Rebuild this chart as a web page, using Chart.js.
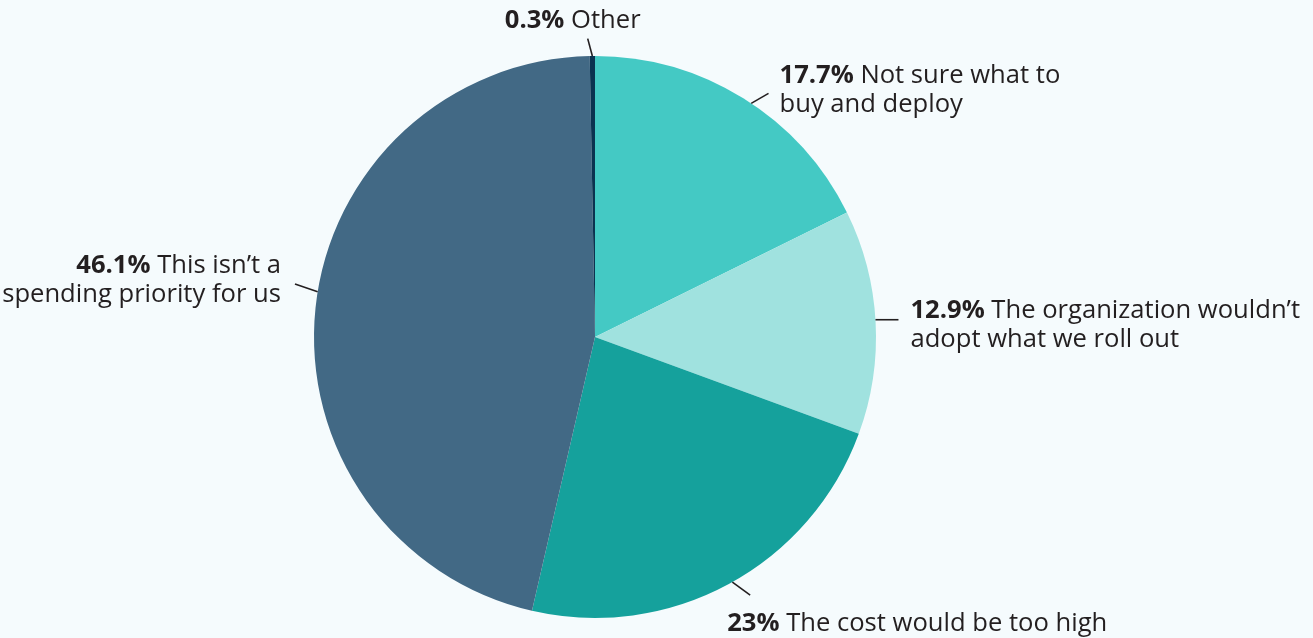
<!DOCTYPE html>
<html>
<head>
<meta charset="utf-8">
<script src="https://cdn.jsdelivr.net/npm/chart.js@4.4.1/dist/chart.umd.min.js"></script>
<style>
    html, body { margin: 0; padding: 0; background: #f5fbfd; }
    #wrap { width: 1313px; height: 638px; position: relative; }
</style>
</head>
<body>
<div id="wrap"><canvas id="barrier_pie"></canvas></div>
<script>
// share of respondents per reason, clockwise from 12 o'clock
var categories = ['Not sure what to|buy and deploy', 'The organization wouldn\u2019t|adopt what we roll out', 'The cost would be too high', 'This isn\u2019t a|spending priority for us', 'Other'];
var shares = [17.7, 12.9, 23, 46.1, 0.3];
var sliceColors = ['#44c9c4', '#a0e2df', '#15a19c', '#426985', '#0b3350'];

// leader line + text placement for each slice
// at: where on the slice the line starts (0..1), dir: line direction in degrees, len: line length
// align/dx/dy: text alignment and offset of the first baseline from the line end
var calloutLayout = [
    { at: 0.53, dir: -30, len: 20, align: 'left', dx: 11, dy: -10 },
    { at: 0.49, dir: 0, len: 23, align: 'left', dx: 12, dy: -2 },
    { at: 0.49, dir: 36, len: 22, align: 'left', dx: -23, dy: 36 },
    { at: 0.52, dir: 199, len: 24, align: 'right', dx: -14, dy: -11 },
    { at: 0.5, dir: -105, len: 18, align: 'center', dx: -15, dy: -11 }
];

var FONT = '"Open Sans", Lato, sans-serif';
var FONT_SIZE = 25.6;
var LINE_GAP = 29;
var TEXT_COLOR = '#231f20';

const calloutPlugin = {
    id: 'callouts',
    afterDraw(chart) {
        let ctx = chart.ctx;
        let meta = chart.getDatasetMeta(0);
        ctx.save();
        meta.data.forEach(function (arc, i) {
            let lay = calloutLayout[i];
            let p = arc.getProps(['x', 'y', 'startAngle', 'endAngle', 'outerRadius'], true);
            let a = p.startAngle + (p.endAngle - p.startAngle) * lay.at;
            let sx = p.x + Math.cos(a) * p.outerRadius;
            let sy = p.y + Math.sin(a) * p.outerRadius;
            let d = lay.dir * Math.PI / 180;
            let ex = sx + Math.cos(d) * lay.len;
            let ey = sy + Math.sin(d) * lay.len;

            ctx.strokeStyle = TEXT_COLOR;
            ctx.lineWidth = 1.6;
            ctx.beginPath();
            ctx.moveTo(sx, sy);
            ctx.lineTo(ex, ey);
            ctx.stroke();

            let pct = shares[i] + '%';
            let lines = categories[i].split('|');
            let boldFont = 'bold ' + FONT_SIZE + 'px ' + FONT;
            let normFont = FONT_SIZE + 'px ' + FONT;
            ctx.textBaseline = 'alphabetic';
            ctx.fillStyle = TEXT_COLOR;

            lines.forEach(function (txt, li) {
                let y = ey + lay.dy + li * LINE_GAP;
                let first = li === 0;
                ctx.font = boldFont;
                let pw = first ? ctx.measureText(pct + ' ').width : 0;
                ctx.font = normFont;
                let tw = ctx.measureText(txt).width;
                let total = pw + tw;
                let x0 = ex + lay.dx;
                if (lay.align === 'right') x0 -= total;
                else if (lay.align === 'center') x0 -= total / 2;
                ctx.textAlign = 'left';
                if (first) {
                    ctx.font = boldFont;
                    ctx.fillText(pct, x0, y);
                }
                ctx.font = normFont;
                ctx.fillText(txt, x0 + pw, y);
            });
        });
        ctx.restore();
    }
};

var ctx = document.getElementById('barrier_pie');
let pieChart = new Chart(ctx, {
    type: 'pie',
    data: {
        labels: categories.map(c => c.replace('|', ' ')),
        datasets: [{
            data: shares,
            backgroundColor: sliceColors,
            borderWidth: 0
        }]
    },
    options: {
        responsive: true,
        maintainAspectRatio: false,
        animation: false,
        layout: {
            padding: { left: 314, right: 437, top: 56, bottom: 20 }
        },
        plugins: {
            legend: { display: false },
            tooltip: { enabled: false }
        }
    },
    plugins: [calloutPlugin]
});
window.myChart = pieChart;
</script>
</body>
</html>
